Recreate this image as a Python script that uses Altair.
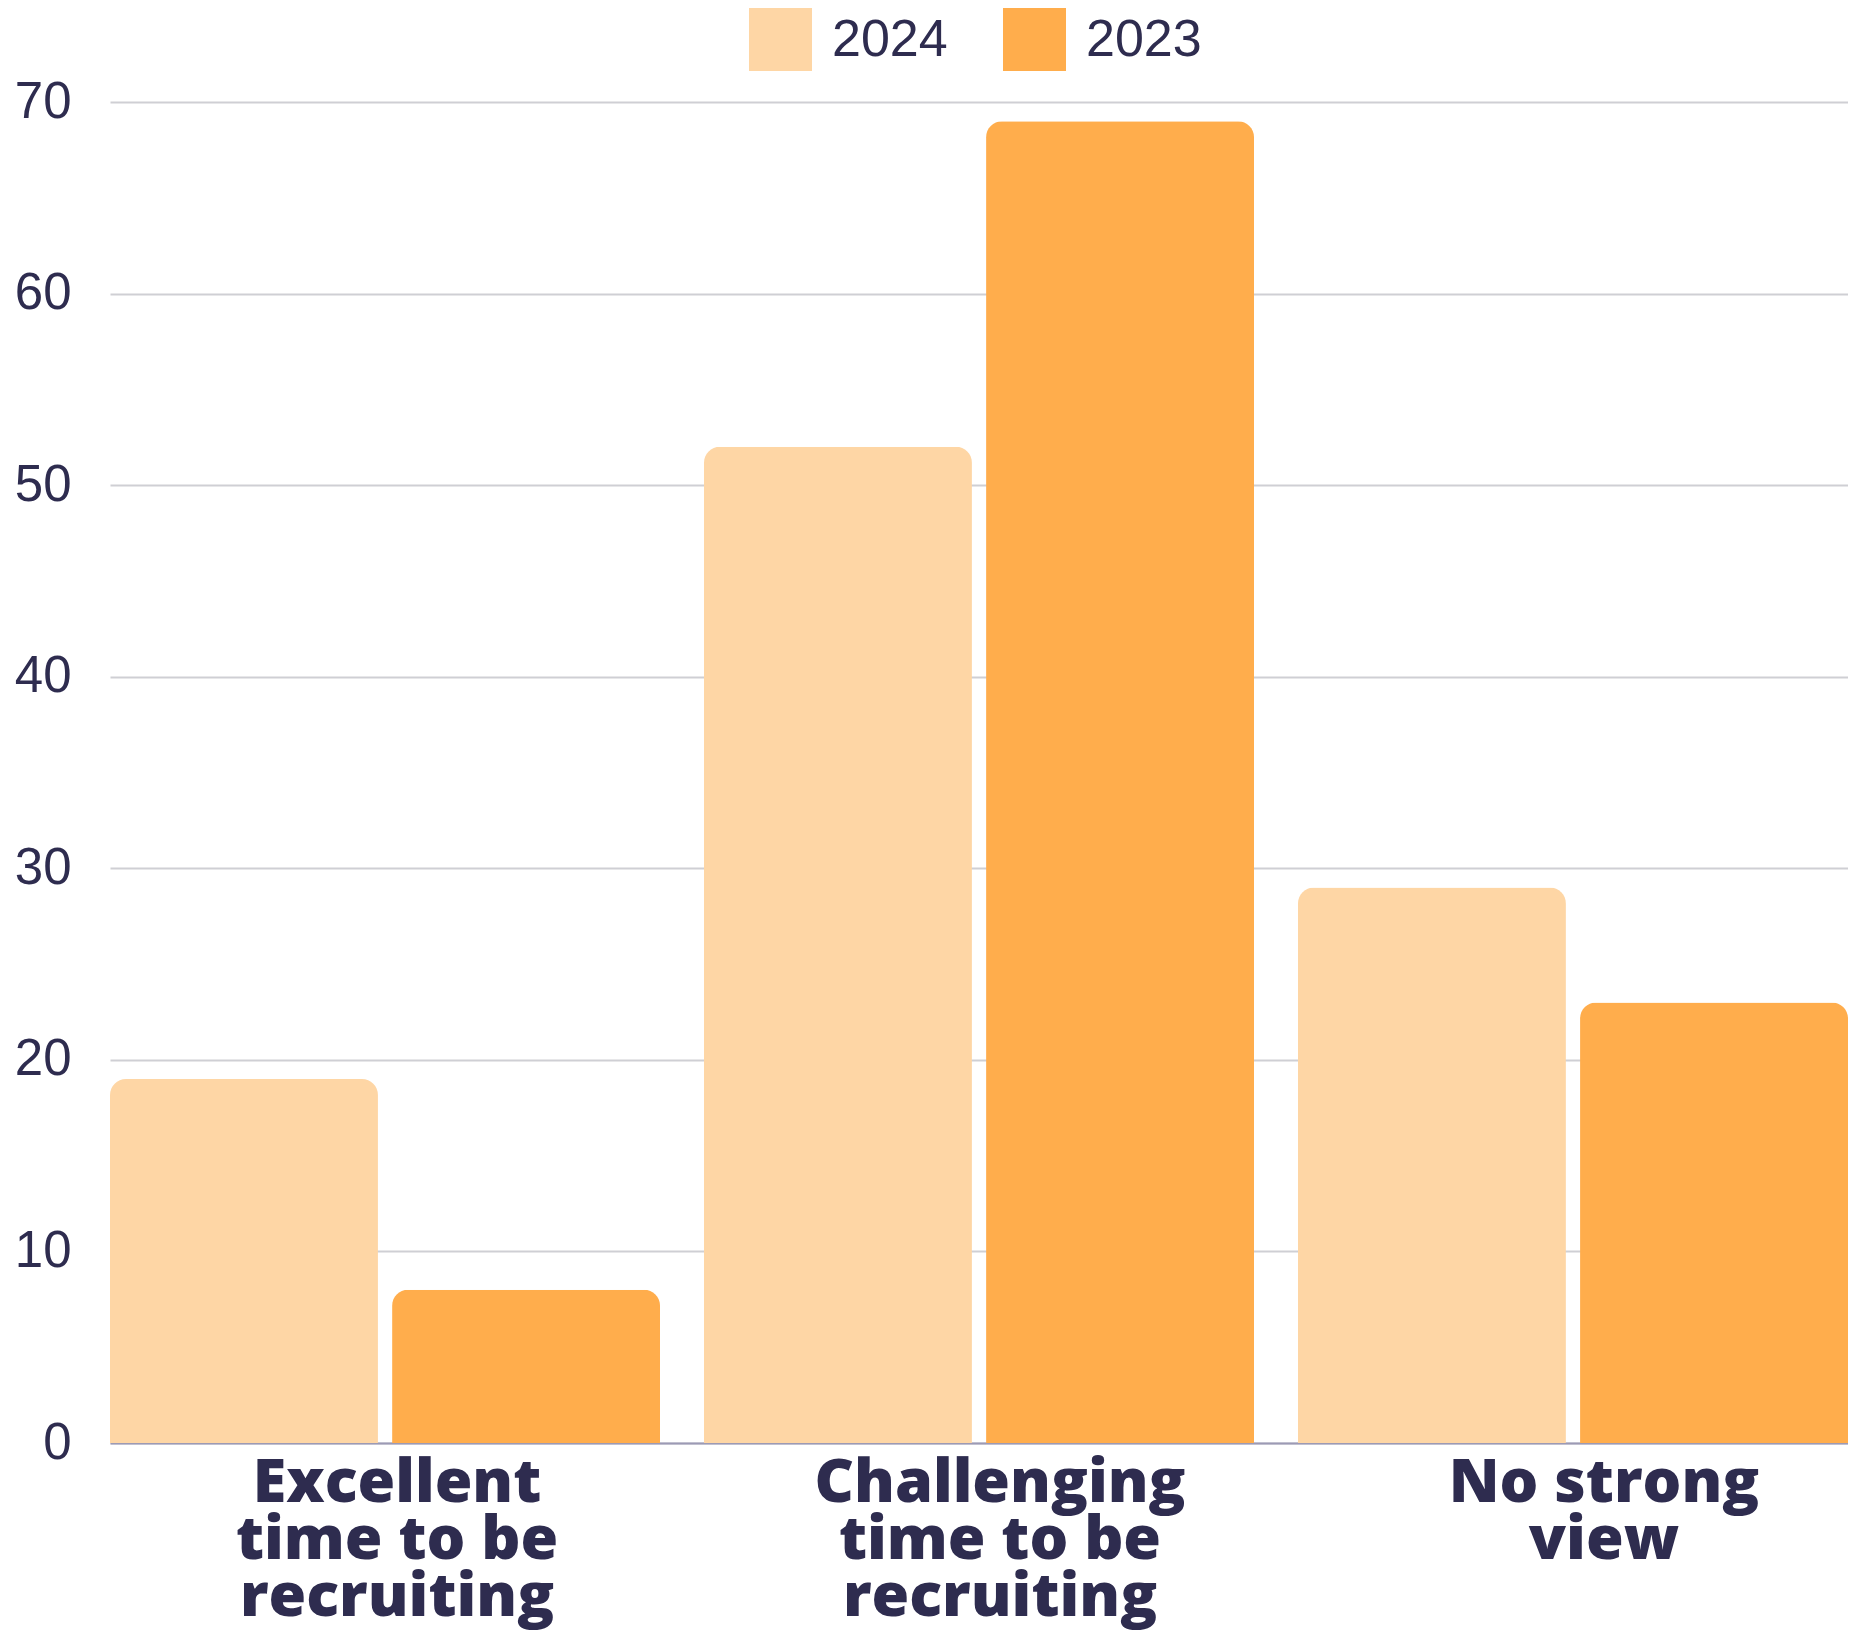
import altair as alt
import pandas as pd

categories = ["Excellent\ntime to be\nrecruiting",
              "Challenging\ntime to be\nrecruiting",
              "No strong\nview"]
years = ["2024", "2023"]
values_2024 = [19, 52, 29]
values_2023 = [8, 69, 23]
y_ticks = [0, 10, 20, 30, 40, 50, 60, 70]
colors = ["#FED6A5", "#FFAD4C"]

rows = []
for c, a, b in zip(categories, values_2024, values_2023):
    rows.append({"category": c, "year": "2024", "value": a})
    rows.append({"category": c, "year": "2023", "value": b})
df = pd.DataFrame(rows)

TEXT = "#2E2C4F"

label_offset = {
    "condition": [
        {"test": "indexof(datum.value, 'Excellent') == 0", "value": 12},
        {"test": "indexof(datum.value, 'Challenging') == 0", "value": 21},
    ],
    "value": 31,
}

chart = (
    alt.Chart(df)
    .mark_bar(cornerRadiusTopLeft=16, cornerRadiusTopRight=16)
    .encode(
        x=alt.X(
            "category:N",
            sort=categories,
            scale=alt.Scale(paddingInner=0.074, paddingOuter=0),
            axis=alt.Axis(
                title=None,
                labelAngle=0,
                labelExpr="split(datum.label, '\\n')",
                labelFont="Open Sans",
                labelFontWeight=800,
                labelFontSize=61,
                labelLineHeight=57,
                labelColor=TEXT,
                labelPadding=10,
                labelBaseline="top",
                labelOffset=label_offset,
                ticks=False,
                domain=True,
                domainColor="#9C9AB5",
                domainWidth=2,
                grid=False,
                labelLimit=0,
            ),
        ),
        xOffset=alt.XOffset(
            "year:N", sort=years,
            scale=alt.Scale(paddingInner=0.05, paddingOuter=0),
        ),
        y=alt.Y(
            "value:Q",
            scale=alt.Scale(domain=[0, 70], nice=False),
            axis=alt.Axis(
                title=None,
                values=y_ticks,
                labelFont="Liberation Sans",
                labelFontSize=51,
                labelColor=TEXT,
                labelPadding=39,
                ticks=False,
                domain=False,
                grid=True,
                gridColor="#CFCFD4",
                gridWidth=2,
            ),
        ),
        color=alt.Color(
            "year:N",
            sort=years,
            scale=alt.Scale(domain=years, range=colors),
            legend=alt.Legend(
                title=None,
                orient="none",
                legendX=639,
                legendY=-94,
                direction="horizontal",
                symbolType="square",
                symbolSize=3969,
                symbolStrokeWidth=0,
                symbolOpacity=1,
                labelFont="Liberation Sans",
                labelFontSize=52,
                labelColor=TEXT,
                labelOffset=20,
                columnPadding=55,
            ),
        ),
    )
    .properties(
        width=1738,
        height=1341,
        autosize=alt.AutoSizeParams(type="none"),
        padding={"left": 102, "top": 94, "right": 0, "bottom": 187},
        background="white",
    )
    .configure_view(stroke=None)
)

chart.save("out.html", embed_options={"renderer": "svg", "actions": False})
